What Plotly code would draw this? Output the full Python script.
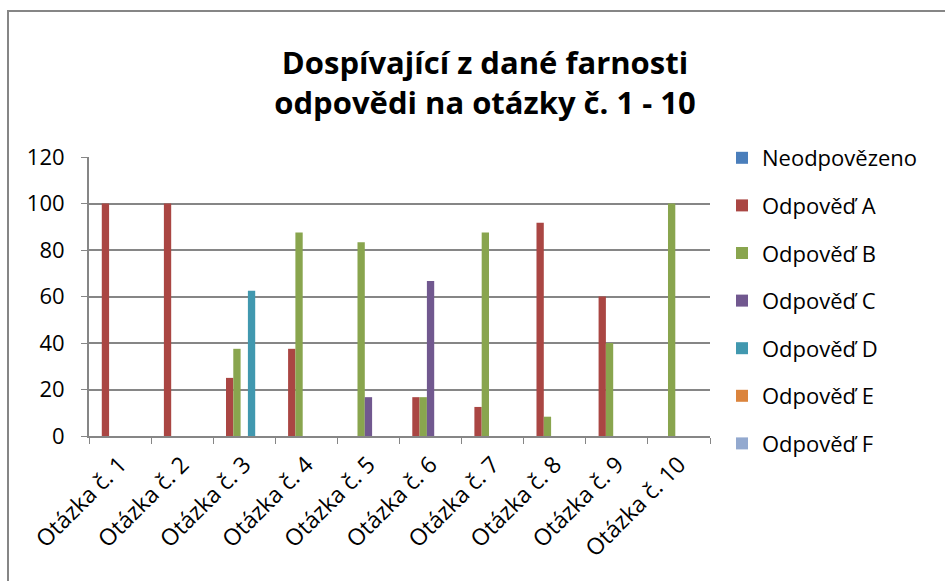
import plotly.graph_objects as go

categories = ["Otázka č. 1", "Otázka č. 2", "Otázka č. 3", "Otázka č. 4", "Otázka č. 5",
              "Otázka č. 6", "Otázka č. 7", "Otázka č. 8", "Otázka č. 9", "Otázka č. 10"]
series_names = ["Neodpovězeno", "Odpověď A", "Odpověď B", "Odpověď C",
                "Odpověď D", "Odpověď E", "Odpověď F"]
neodpovezeno = [0, 0, 0, 0, 0, 0, 0, 0, 0, 0]
odpoved_a = [100, 100, 25, 37.5, 0, 16.7, 12.5, 91.7, 60, 0]
odpoved_b = [0, 0, 37.5, 87.5, 83.3, 16.7, 87.5, 8.3, 40, 100]
odpoved_c = [0, 0, 0, 0, 16.7, 66.7, 0, 0, 0, 0]
odpoved_d = [0, 0, 62.5, 0, 0, 0, 0, 0, 0, 0]
odpoved_e = [0, 0, 0, 0, 0, 0, 0, 0, 0, 0]
odpoved_f = [0, 0, 0, 0, 0, 0, 0, 0, 0, 0]
y_ticks = [0, 20, 40, 60, 80, 100, 120]

series_values = [neodpovezeno, odpoved_a, odpoved_b, odpoved_c, odpoved_d, odpoved_e, odpoved_f]
colors = ["#4A7EBB", "#AA4643", "#89A54E", "#71588F", "#4198AF", "#DB843D", "#93A9CF"]

FONT = "Open Sans"

fig = go.Figure()
for i, (name, vals, col) in enumerate(zip(series_names, series_values, colors)):
    fig.add_trace(go.Bar(
        x=categories, y=vals, name=name, legendgroup=name,
        marker=dict(color=col, line=dict(width=0)),
    ))

W, H = 945, 581
ml, mr, mt, mb = 89, 235, 157, 145
pw = W - ml - mr
ph = H - mt - mb

fig.update_layout(
    width=W, height=H,
    margin=dict(l=ml, r=mr, t=mt, b=mb, autoexpand=False),
    paper_bgcolor="white", plot_bgcolor="white",
    font=dict(family=FONT, color="black", size=22),
    title=dict(text="<b>Dospívající z dané farnosti<br>odpovědi na otázky č. 1 - 10</b>",
               x=485 / W, xanchor="center", y=1 - 74 / H, yanchor="middle",
               font=dict(size=31, family=FONT, color="black")),
    barmode="group", bargap=1.5 / 8.5, bargroupgap=0,
    showlegend=True,
    legend=dict(x=(722 - ml) / pw, xanchor="left", y=1 + (157 - 137) / ph, yanchor="top",
                font=dict(size=22, family=FONT), tracegroupgap=16,
                itemwidth=30, bgcolor="rgba(0,0,0,0)", maxheight=420),
    xaxis=dict(type="category", tickson="boundaries", ticks="outside", ticklen=6,
               tickcolor="#868686", showline=True, linecolor="#868686", linewidth=2,
               tickangle=-45, tickfont=dict(size=23, family=FONT), showgrid=False,
               ticklabelstandoff=4),
    yaxis=dict(range=[0, 120], tickvals=y_ticks, showgrid=True, gridcolor="#868686",
               gridwidth=2, showline=True, linecolor="#868686", linewidth=2,
               ticks="outside", ticklen=6, tickcolor="#868686",
               tickfont=dict(size=22, family=FONT), zeroline=False,
               ticklabelstandoff=12),
    shapes=[dict(type="rect", xref="paper", yref="paper",
                 x0=-(ml - 8) / pw, x1=1 + (mr + 20) / pw,
                 y0=-(mb + 20) / ph, y1=1 + (mt - 11) / ph,
                 line=dict(color="#868686", width=2))],
)

fig.write_html("out.html", config={"displayModeBar": False},
               post_script="document.body.style.margin='0';")
